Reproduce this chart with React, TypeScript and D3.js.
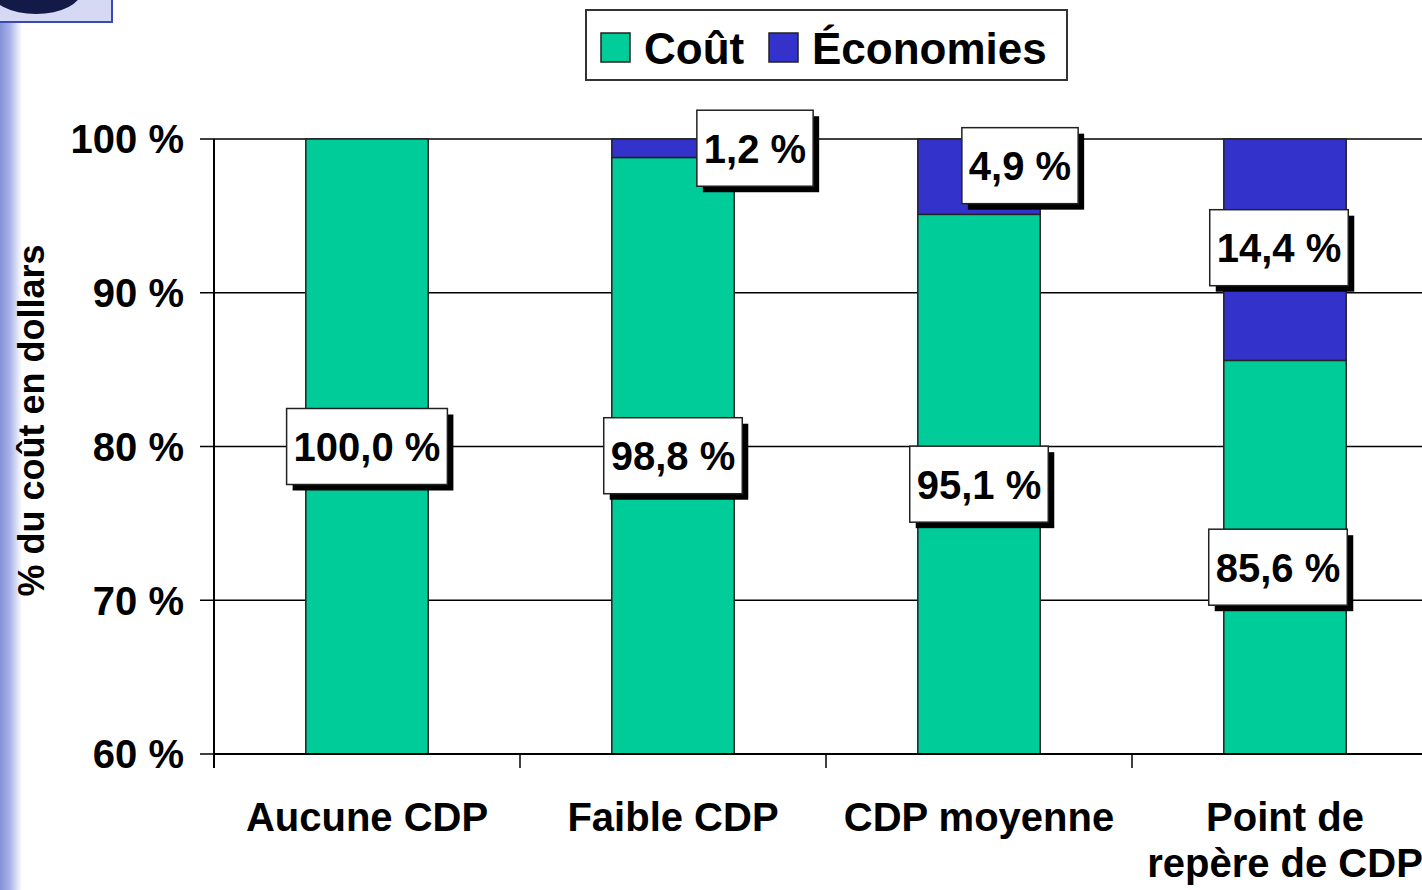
import React from 'react';
import * as d3 from 'd3';

// chart data
const categories = ['Aucune CDP', 'Faible CDP', 'CDP moyenne', 'Point de\nrepère de CDP'];
const cout = [100.0, 98.8, 95.1, 85.6];
const economies = [0.0, 1.2, 4.9, 14.4];
const seriesNames = ['Coût', 'Économies'];
const yTicks = [60, 70, 80, 90, 100];

const W = 1422;
const H = 890;
const margin = { top: 139, left: 214, bottom: 136 };
const step = 306;
const font = '"Liberation Sans", Arial, sans-serif';
const colors = ['#00cc99', '#3333cc'];

const fmt = (v: number) => d3.format('.1f')(v).replace('.', ',') + ' %';

let ctx: CanvasRenderingContext2D | null = null;
const textWidth = (s: string, size: number) => {
  if (!ctx) ctx = document.createElement('canvas').getContext('2d');
  if (!ctx) return s.length * size * 0.55;
  ctx.font = `bold ${size}px "Liberation Sans", Arial`;
  return ctx.measureText(s).width;
};

// labels that were dragged off their segment in the original
const nudge: Record<string, [number, number]> = {
  '1-1': [82, 0],
  '2-1': [41, -11],
  '3-0': [-7, 10],
  '3-1': [-6, -2],
};

function Label({ x, y, text }: { x: number; y: number; text: string }) {
  const w = textWidth(text, 40) + 14;
  const h = 76;
  return (
    <g transform={`translate(${x - w / 2},${y - h / 2})`}>
      <rect x={6} y={6} width={w} height={h} fill="#000" />
      <rect width={w} height={h} fill="#fff" stroke="#222" strokeWidth={1.5} />
      <text x={w / 2} y={h / 2} dy="0.36em" textAnchor="middle" fontSize={40} fontWeight="bold" fontFamily={font}>
        {text}
      </text>
    </g>
  );
}

export default function App() {
  const x = d3
    .scaleBand<string>()
    .domain(categories)
    .range([margin.left, margin.left + step * categories.length])
    .paddingInner(0.6)
    .paddingOuter(0.3);
  const y = d3.scaleLinear().domain([60, 100]).range([H - margin.bottom, margin.top]);

  const stacked = d3.stack<number>().keys(['0', '1']).value((i, k) => (k === '0' ? cout[i] : economies[i]))(
    d3.range(categories.length)
  );

  const plotRight = margin.left + step * categories.length;

  return (
    <svg
      width={W}
      height={H}
      style={{ position: 'absolute', left: 0, top: 0, background: '#fff' }}
      fontFamily={font}
    >
      <defs>
        <linearGradient id="side" x1="0" x2="1" y1="0" y2="0">
          <stop offset="0" stopColor="#8291da" />
          <stop offset="0.45" stopColor="#aab3e8" />
          <stop offset="1" stopColor="#ffffff" />
        </linearGradient>
      </defs>
      {/* slide decoration */}
      <rect x={0} y={0} width={22} height={H} fill="url(#side)" />
      <rect x={-2} y={-2} width={114} height={24} fill="#d6d9f3" stroke="#3a49b0" strokeWidth={2} />
      <ellipse cx={36} cy={-10} rx={46} ry={24} fill="#141a48" />

      {/* gridlines */}
      {yTicks.map((t) => (
        <line key={t} x1={margin.left - 14} x2={plotRight} y1={y(t)} y2={y(t)} stroke="#000" strokeWidth={1.5} />
      ))}

      {/* bars */}
      {stacked.map((s, si) =>
        s.map((d, i) => {
          const top = Math.min(d[1], 100);
          if (d[1] - d[0] <= 0) return null;
          return (
            <rect
              key={`${si}-${i}`}
              x={x(categories[i])}
              width={x.bandwidth()}
              y={y(top)}
              height={y(Math.max(d[0], 60)) - y(top)}
              fill={colors[si]}
              stroke="#222"
              strokeWidth={1.5}
            />
          );
        })
      )}

      {/* axes */}
      <line x1={margin.left} x2={margin.left} y1={y(100)} y2={y(60) + 14} stroke="#000" strokeWidth={2} />
      <line x1={margin.left} x2={plotRight} y1={y(60)} y2={y(60)} stroke="#000" strokeWidth={2} />
      {d3.range(categories.length + 1).map((i) => (
        <line
          key={i}
          x1={margin.left + i * step}
          x2={margin.left + i * step}
          y1={y(60)}
          y2={y(60) + 14}
          stroke="#000"
          strokeWidth={1.5}
        />
      ))}
      {yTicks.map((t) => (
        <text key={t} x={184} y={y(t)} dy="0.36em" textAnchor="end" fontSize={40} fontWeight="bold">
          {t} %
        </text>
      ))}
      {categories.map((c) => (
        <text key={c} textAnchor="middle" fontSize={40} fontWeight="bold">
          {c.split('\n').map((line, li) => (
            <tspan key={li} x={(x(c) ?? 0) + x.bandwidth() / 2} y={831 + li * 46}>
              {line}
            </tspan>
          ))}
        </text>
      ))}
      <text
        transform={`translate(44,${(y(60) + y(100)) / 2 - 26}) rotate(-90)`}
        textAnchor="middle"
        fontSize={36}
        fontWeight="bold"
      >
        % du coût en dollars
      </text>

      {/* data labels */}
      {stacked.map((s, si) =>
        s.map((d, i) => {
          const v = si === 0 ? cout[i] : economies[i];
          if (v <= 0) return null;
          const mid = (Math.max(d[0], 60) + Math.min(d[1], 100)) / 2;
          const [dx, dy] = nudge[`${i}-${si}`] ?? [0, 0];
          return <Label key={`l${si}-${i}`} x={(x(categories[i]) ?? 0) + x.bandwidth() / 2 + dx} y={y(mid) + dy} text={fmt(v)} />;
        })
      )}

      {/* legend */}
      <g transform="translate(586,10)">
        <rect width={481} height={70} fill="#fff" stroke="#333" strokeWidth={2} />
        {seriesNames.map((n, i) => {
          const off = i === 0 ? 15 : 183;
          return (
            <g key={n} transform={`translate(${off},23)`}>
              <rect width={29} height={29} fill={colors[i]} stroke="#222" strokeWidth={1.5} />
              <text x={43} y={15} dy="0.36em" fontSize={44} fontWeight="bold">
                {n}
              </text>
            </g>
          );
        })}
      </g>
    </svg>
  );
}
